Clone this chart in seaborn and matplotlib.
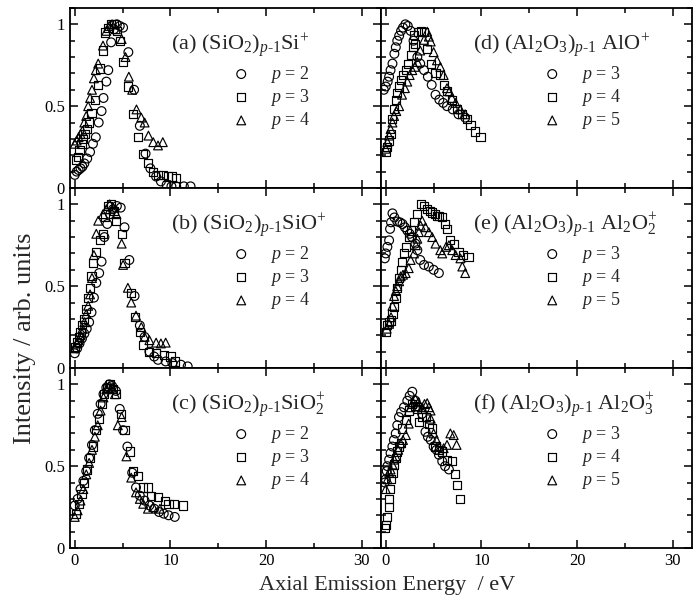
import matplotlib
matplotlib.use("Agg")
import matplotlib.pyplot as plt
from matplotlib.ticker import MultipleLocator
import seaborn as sns
import pandas as pd

# ---------------- data ----------------
# panel (a) (SiO2)p-1 Si+
a_p2_E = [0.0, 0.2, 0.4, 0.6, 0.8, 1.0, 1.3, 1.6, 1.9, 2.2, 2.5, 2.8, 3.0, 3.3, 3.5, 3.8, 4.1, 4.4, 4.7, 5.05, 5.6, 6.2, 6.8, 7.4, 7.9, 8.5, 9.0, 9.6, 10.1, 10.6, 11.4, 12.1]
a_p2_I = [0.08, 0.10, 0.11, 0.12, 0.13, 0.15, 0.18, 0.22, 0.27, 0.31, 0.40, 0.47, 0.55, 0.65, 0.72, 0.89, 0.97, 1.00, 0.99, 0.98, 0.83, 0.60, 0.38, 0.21, 0.12, 0.07, 0.04, 0.02, 0.01, 0.01, 0.01, 0.01]
a_p3_E = [0.1, 0.3, 0.5, 0.7, 0.9, 1.1, 1.3, 1.5, 1.75, 2.1, 2.4, 2.6, 2.95, 3.2, 3.5, 3.8, 4.1, 4.4, 4.7, 5.05, 5.6, 6.1, 6.6, 7.1, 7.7, 8.2, 8.7, 9.2, 9.7, 10.2, 10.6]
a_p3_I = [0.17, 0.19, 0.23, 0.27, 0.30, 0.33, 0.36, 0.40, 0.46, 0.54, 0.63, 0.73, 0.84, 0.95, 0.98, 1.00, 1.00, 0.96, 0.90, 0.77, 0.62, 0.45, 0.31, 0.21, 0.15, 0.10, 0.08, 0.08, 0.07, 0.07, 0.06]
a_p4_E = [0.0, 0.2, 0.4, 0.6, 0.8, 1.0, 1.2, 1.4, 1.6, 1.8, 2.0, 2.2, 2.45, 2.95, 3.3, 3.6, 3.9, 4.3, 4.9, 5.3, 5.65, 6.0, 6.45, 6.95, 7.3, 7.7, 8.2, 8.7, 9.2]
a_p4_I = [0.27, 0.29, 0.31, 0.33, 0.35, 0.40, 0.44, 0.50, 0.55, 0.60, 0.67, 0.72, 0.76, 0.87, 0.96, 0.99, 1.00, 0.97, 0.91, 0.80, 0.68, 0.60, 0.48, 0.43, 0.40, 0.32, 0.28, 0.26, 0.28]

# panel (b) (SiO2)p-1 SiO+
b_p2_E = [0.0, 0.25, 0.5, 0.75, 1.0, 1.25, 1.5, 1.75, 2.0, 2.25, 2.55, 2.8, 3.1, 3.4, 3.7, 4.0, 4.4, 4.8, 5.2, 5.7, 6.25, 6.8, 7.3, 7.8, 8.3, 8.7, 9.5, 10.2, 11.1, 11.8]
b_p2_I = [0.09, 0.12, 0.15, 0.18, 0.21, 0.24, 0.28, 0.34, 0.43, 0.52, 0.58, 0.65, 0.80, 0.88, 0.94, 0.97, 0.99, 0.98, 0.86, 0.66, 0.44, 0.26, 0.19, 0.10, 0.07, 0.05, 0.04, 0.03, 0.02, 0.01]
b_p3_E = [0.0, 0.2, 0.4, 0.6, 0.8, 1.0, 1.2, 1.4, 1.6, 1.75, 1.95, 2.25, 2.6, 2.95, 3.2, 3.5, 3.8, 4.1, 4.35, 4.9, 5.2, 5.9, 6.3, 6.8, 7.15, 7.8, 8.5, 9.3, 10.0, 10.5]
b_p3_I = [0.13, 0.16, 0.19, 0.22, 0.26, 0.30, 0.36, 0.43, 0.49, 0.56, 0.64, 0.71, 0.78, 0.82, 0.92, 0.99, 1.00, 0.96, 0.90, 0.82, 0.64, 0.46, 0.31, 0.22, 0.14, 0.10, 0.09, 0.08, 0.07, 0.04]
b_p4_E = [0.0, 0.2, 0.4, 0.6, 0.8, 1.0, 1.2, 1.4, 1.6, 1.8, 2.0, 2.25, 2.45, 2.95, 3.3, 3.65, 4.0, 4.35, 4.9, 5.05, 5.55, 5.9, 6.4, 6.95, 7.3, 7.8, 8.5, 9.0, 9.5]
b_p4_I = [0.12, 0.15, 0.17, 0.20, 0.24, 0.28, 0.33, 0.38, 0.45, 0.55, 0.69, 0.82, 0.90, 0.94, 0.97, 1.00, 0.98, 0.94, 0.76, 0.63, 0.49, 0.40, 0.32, 0.25, 0.19, 0.17, 0.155, 0.15, 0.155]

# panel (c) (SiO2)p-1 SiO2+
c_p2_E = [0.0, 0.3, 0.6, 0.9, 1.2, 1.5, 1.8, 2.1, 2.4, 2.7, 3.0, 3.3, 3.6, 3.9, 4.3, 4.7, 5.05, 5.5, 6.0, 6.4, 6.8, 7.3, 7.8, 8.3, 8.8, 9.3, 9.8, 10.45]
c_p2_I = [0.26, 0.30, 0.36, 0.41, 0.47, 0.55, 0.63, 0.72, 0.82, 0.88, 0.94, 0.98, 1.00, 0.99, 0.96, 0.85, 0.72, 0.62, 0.46, 0.37, 0.32, 0.29, 0.26, 0.24, 0.22, 0.21, 0.20, 0.19]
c_p3_E = [0.1, 0.4, 0.7, 1.0, 1.3, 1.6, 1.9, 2.2, 2.5, 2.8, 3.1, 3.4, 3.7, 4.0, 4.35, 4.8, 5.2, 5.75, 6.1, 6.6, 7.15, 7.7, 8.0, 8.7, 9.4, 9.8, 10.4, 11.3]
c_p3_I = [0.21, 0.27, 0.33, 0.40, 0.48, 0.55, 0.62, 0.72, 0.79, 0.88, 0.94, 0.98, 1.00, 0.97, 0.94, 0.82, 0.72, 0.59, 0.47, 0.44, 0.37, 0.37, 0.32, 0.31, 0.29, 0.27, 0.27, 0.26]
c_p4_E = [0.0, 0.3, 0.6, 0.9, 1.2, 1.5, 1.8, 2.1, 2.4, 2.7, 3.0, 3.3, 3.6, 3.9, 4.2, 4.5, 4.9, 5.4, 5.9, 6.4, 6.8, 7.15, 7.65, 8.2, 8.9]
c_p4_I = [0.19, 0.23, 0.29, 0.36, 0.45, 0.52, 0.60, 0.68, 0.75, 0.84, 0.92, 0.97, 0.99, 0.98, 0.94, 0.75, 0.80, 0.56, 0.43, 0.34, 0.30, 0.27, 0.24, 0.25, 0.24]

# panel (d) (Al2O3)p-1 AlO+
d_p3_E = [-0.2, 0.0, 0.2, 0.35, 0.5, 0.7, 0.9, 1.05, 1.2, 1.4, 1.6, 1.8, 2.05, 2.3, 2.6, 2.9, 3.3, 3.6, 4.0, 4.4, 4.8, 5.2, 5.6, 6.0, 6.4, 7.0, 7.6, 8.3]
d_p3_I = [0.60, 0.62, 0.65, 0.68, 0.72, 0.76, 0.82, 0.86, 0.90, 0.93, 0.96, 0.98, 1.00, 0.99, 0.96, 0.90, 0.80, 0.76, 0.72, 0.68, 0.63, 0.57, 0.54, 0.52, 0.50, 0.48, 0.45, 0.43]
d_p4_E = [0.05, 0.17, 0.35, 0.52, 0.69, 0.85, 1.04, 1.2, 1.38, 1.56, 1.8, 2.08, 2.35, 2.6, 2.8, 2.95, 3.1, 3.4, 3.7, 4.0, 4.3, 4.7, 5.2, 5.7, 6.1, 6.4, 6.9, 7.45, 7.95, 8.5, 8.85, 9.35, 9.9]
d_p4_I = [0.22, 0.25, 0.29, 0.33, 0.42, 0.48, 0.54, 0.58, 0.62, 0.66, 0.69, 0.72, 0.76, 0.81, 0.86, 0.935, 0.88, 0.955, 0.96, 0.955, 0.85, 0.76, 0.70, 0.69, 0.63, 0.59, 0.54, 0.48, 0.45, 0.42, 0.385, 0.345, 0.31]
d_p5_E = [0.0, 0.17, 0.35, 0.5, 0.7, 0.87, 1.1, 1.4, 1.7, 2.0, 2.25, 2.5, 2.77, 3.05, 3.3, 3.6, 4.0, 4.33, 4.5, 4.7, 5.0, 5.35, 5.7, 6.05, 6.4, 6.65, 6.9, 7.3, 7.8, 8.3]
d_p5_I = [0.24, 0.28, 0.32, 0.36, 0.40, 0.44, 0.47, 0.50, 0.57, 0.61, 0.65, 0.69, 0.72, 0.74, 0.77, 0.84, 0.905, 0.955, 0.925, 0.895, 0.83, 0.78, 0.74, 0.69, 0.61, 0.59, 0.55, 0.52, 0.48, 0.45]

# panel (e) (Al2O3)p-1 Al2O2+
e_p3_E = [-0.1, 0.0, 0.17, 0.35, 0.45, 0.55, 0.7, 0.9, 1.2, 1.5, 1.75, 2.0, 2.25, 2.5, 2.75, 3.1, 3.3, 3.6, 4.0, 4.5, 5.0, 5.55]
e_p3_I = [0.67, 0.70, 0.74, 0.78, 0.85, 0.89, 0.945, 0.92, 0.895, 0.89, 0.88, 0.86, 0.84, 0.82, 0.80, 0.76, 0.72, 0.66, 0.63, 0.62, 0.60, 0.58]
e_p4_E = [0.0, 0.17, 0.35, 0.5, 0.7, 0.87, 1.05, 1.2, 1.4, 1.56, 1.73, 1.9, 2.1, 2.4, 2.6, 2.95, 3.3, 3.65, 4.0, 4.3, 4.6, 4.85, 5.1, 5.35, 5.6, 5.9, 6.15, 6.4, 6.75, 7.1, 7.6, 8.1, 8.65]
e_p4_I = [0.22, 0.26, 0.28, 0.29, 0.33, 0.37, 0.43, 0.49, 0.55, 0.60, 0.65, 0.70, 0.74, 0.80, 0.84, 0.89, 0.94, 1.00, 0.99, 0.97, 0.96, 0.95, 0.94, 0.93, 0.93, 0.92, 0.88, 0.85, 0.78, 0.76, 0.71, 0.69, 0.68]
e_p5_E = [0.1, 0.35, 0.55, 0.7, 0.87, 1.05, 1.2, 1.4, 1.56, 1.8, 2.08, 2.4, 2.6, 2.95, 3.15, 3.3, 3.46, 3.64, 3.8, 4.15, 4.5, 4.85, 5.2, 5.7, 5.9, 6.3, 6.6, 6.95, 7.3, 7.8, 8.0, 8.3]
e_p5_I = [0.24, 0.27, 0.31, 0.38, 0.44, 0.47, 0.50, 0.53, 0.56, 0.57, 0.58, 0.61, 0.66, 0.70, 0.75, 0.79, 0.83, 0.87, 0.90, 0.86, 0.83, 0.80, 0.76, 0.72, 0.70, 0.74, 0.75, 0.72, 0.69, 0.67, 0.62, 0.58]

# panel (f) (Al2O3)p-1 Al2O3+
f_p3_E = [-0.1, 0.0, 0.1, 0.17, 0.35, 0.5, 0.69, 0.85, 1.04, 1.2, 1.38, 1.6, 1.9, 2.25, 2.5, 2.77, 3.1, 3.46, 3.8, 4.15, 4.4, 4.7, 5.0, 5.3, 5.55, 5.9, 6.2, 6.6]
f_p3_I = [0.40, 0.42, 0.47, 0.50, 0.54, 0.58, 0.62, 0.66, 0.70, 0.75, 0.80, 0.83, 0.86, 0.90, 0.93, 0.955, 0.90, 0.86, 0.82, 0.71, 0.68, 0.66, 0.62, 0.60, 0.57, 0.53, 0.50, 0.48]
f_p4_E = [-0.1, 0.0, 0.17, 0.3, 0.35, 0.45, 0.55, 0.7, 0.87, 1.05, 1.2, 1.4, 1.56, 1.73, 2.1, 2.4, 2.77, 3.1, 3.3, 3.46, 3.8, 4.2, 4.5, 4.85, 5.2, 5.55, 5.9, 6.4, 6.9, 7.25, 7.45, 7.8]
f_p4_I = [0.12, 0.14, 0.19, 0.25, 0.30, 0.36, 0.42, 0.46, 0.51, 0.55, 0.59, 0.62, 0.64, 0.73, 0.78, 0.84, 0.88, 0.87, 0.85, 0.77, 0.80, 0.80, 0.76, 0.73, 0.62, 0.60, 0.59, 0.54, 0.53, 0.45, 0.385, 0.30]
f_p5_E = [0.0, 0.17, 0.35, 0.5, 0.7, 0.87, 1.04, 1.3, 1.56, 1.8, 2.1, 2.4, 2.6, 2.85, 3.1, 3.4, 3.8, 4.05, 4.33, 4.5, 4.68, 4.7, 5.0, 5.3, 5.55, 6.05, 6.4, 6.75, 7.1, 7.4]
f_p5_I = [0.36, 0.42, 0.46, 0.48, 0.51, 0.54, 0.56, 0.60, 0.64, 0.66, 0.69, 0.76, 0.86, 0.89, 0.91, 0.89, 0.86, 0.88, 0.885, 0.86, 0.84, 0.79, 0.70, 0.66, 0.62, 0.61, 0.63, 0.70, 0.69, 0.63]

panel_titles = [
    r"(a) (SiO$_2$)$_{p\text{-}1}$Si$^{+}$",
    r"(b) (SiO$_2$)$_{p\text{-}1}$SiO$^{+}$",
    r"(c) (SiO$_2$)$_{p\text{-}1}$SiO$_2^{+}$",
    r"(d) (Al$_2$O$_3$)$_{p\text{-}1}$ AlO$^{+}$",
    r"(e) (Al$_2$O$_3$)$_{p\text{-}1}$ Al$_2$O$_2^{+}$",
    r"(f) (Al$_2$O$_3$)$_{p\text{-}1}$ Al$_2$O$_3^{+}$",
]
si_p = [2, 3, 4]
al_p = [3, 4, 5]
x_ticks = [0, 10, 20, 30]
y_ticks = [0, 0.5, 1]
y_ticklabels = ["0", "0.5", "1"]
x_label = "Axial Emission Energy  / eV"
y_label = "Intensity / arb. units"

panels = [
    [(a_p2_E, a_p2_I), (a_p3_E, a_p3_I), (a_p4_E, a_p4_I)],
    [(b_p2_E, b_p2_I), (b_p3_E, b_p3_I), (b_p4_E, b_p4_I)],
    [(c_p2_E, c_p2_I), (c_p3_E, c_p3_I), (c_p4_E, c_p4_I)],
    [(d_p3_E, d_p3_I), (d_p4_E, d_p4_I), (d_p5_E, d_p5_I)],
    [(e_p3_E, e_p3_I), (e_p4_E, e_p4_I), (e_p5_E, e_p5_I)],
    [(f_p3_E, f_p3_I), (f_p4_E, f_p4_I), (f_p5_E, f_p5_I)],
]
p_values = [si_p, si_p, si_p, al_p, al_p, al_p]

# ---------------- style ----------------
sns.set_theme(style="ticks")
plt.rcParams["font.family"] = ["Liberation Serif", "DejaVu Serif"]
plt.rcParams["mathtext.fontset"] = "custom"
plt.rcParams["mathtext.rm"] = "Liberation Serif"
plt.rcParams["mathtext.it"] = "Liberation Serif:italic"
plt.rcParams["mathtext.bf"] = "Liberation Serif:bold"
plt.rcParams["axes.linewidth"] = 1.3

fig, axes = plt.subplots(3, 2, figsize=(6.97, 6.04), dpi=100, sharex=True, sharey=True)
fig.subplots_adjust(left=0.1004, right=0.9928, top=0.9868, bottom=0.0927, wspace=0, hspace=0)

markers = ["o", "s", "^"]
sizes = [40, 34, 40]

for idx in range(6):
    col = idx // 3
    row = idx % 3
    ax = axes[row, col]
    for k, (E, I) in enumerate(panels[idx]):
        df = pd.DataFrame({"E": E, "I": I})
        sns.scatterplot(data=df, x="E", y="I", ax=ax, marker=markers[k], s=sizes[k],
                        facecolor="none", edgecolor="black", linewidth=0.85,
                        label=r"$p$ = %d" % p_values[idx][k], legend=False)
    ax.set_xlim(-0.5, 32)
    ax.set_ylim(0, 1.1)
    ax.set_xlabel("")
    ax.set_ylabel("")
    ax.xaxis.set_major_locator(MultipleLocator(10))
    ax.xaxis.set_minor_locator(MultipleLocator(5))
    ax.yaxis.set_major_locator(MultipleLocator(0.5))
    ax.yaxis.set_minor_locator(MultipleLocator(0.1))
    ax.tick_params(which="both", direction="in", top=True, right=True, bottom=True, left=True,
                   colors="black", width=1.1, labelsize=12)
    ax.tick_params(which="major", length=6)
    ax.tick_params(which="minor", length=3.5)
    ax.set_xticks(x_ticks)
    ax.set_yticks(y_ticks)
    if col == 0:
        ax.set_yticklabels(y_ticklabels)
    ax.text(0.325 if col == 0 else 0.295, 0.79, panel_titles[idx], transform=ax.transAxes,
            fontsize=16, va="center", ha="left")
    ax.legend(loc="upper left", bbox_to_anchor=(0.51, 0.71), frameon=False, fontsize=13,
              handletextpad=1.1, labelspacing=0.12, handlelength=1.0, borderaxespad=0,
              borderpad=0.2)
    for sp in ax.spines.values():
        sp.set_color("black")

fig.text(0.556, 0.031, x_label, ha="center", va="center", fontsize=16)
fig.text(0.036, 0.44, y_label, ha="center", va="center", rotation=90, fontsize=19)

fig.savefig("out.png", dpi=100)
